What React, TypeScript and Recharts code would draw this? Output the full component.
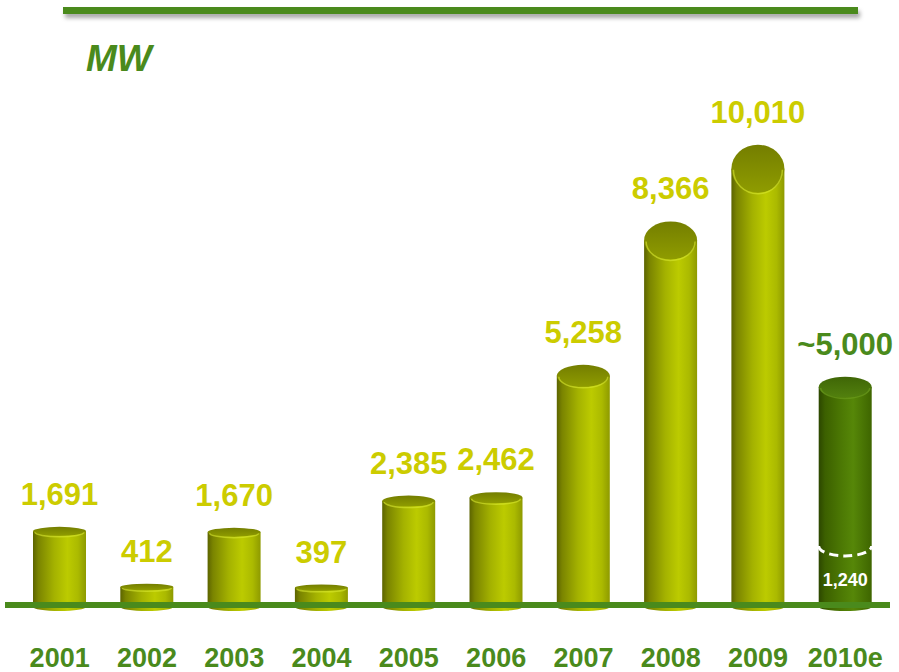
import { Bar, ComposedChart, XAxis, YAxis } from "recharts";

const years = ["2001", "2002", "2003", "2004", "2005", "2006", "2007", "2008", "2009", "2010e"];
const capacityMW = [1691, 412, 1670, 397, 2385, 2462, 5258, 8366, 10010, 5000];
const estimated = [false, false, false, false, false, false, false, false, false, true];
const installed2010 = 1240;

const data = years.map((year, i) => ({ year, mw: capacityMW[i], estimate: estimated[i] }));

const FONT = "'Liberation Sans', Arial, sans-serif";
const GREEN = "#4a8a1c";
const YELLOW = "#cccc00";

function topRy(h: number) {
  return 3 + Math.pow(Math.min(h / 437, 1), 1.5) * 21;
}

const Cylinder = (props: any) => {
  const { x, y, width, height, index, payload } = props;
  const est = payload.estimate;
  const rx = width / 2;
  const cx = x + rx;
  const ry = topRy(height);
  const bottom = y + height;
  const body = `M${x},${y} L${x},${bottom + 2} A${rx},4 0 0 0 ${x + width},${bottom + 2} L${x + width},${y} Z`;
  const gid = `body-${index}`;
  const tid = `top-${index}`;
  const label = (est ? "~" : "") + payload.mw.toLocaleString("en-US");
  const splitY = y + height * (1 - installed2010 / payload.mw);

  return (
    <g>
      <defs>
        {est ? (
          <linearGradient id={gid} x1="0" y1="0" x2="1" y2="0">
            <stop offset="0" stopColor="#2c4700" />
            <stop offset="0.12" stopColor="#3c6000" />
            <stop offset="0.45" stopColor="#4d7a04" />
            <stop offset="0.65" stopColor="#568708" />
            <stop offset="1" stopColor="#3e6500" />
          </linearGradient>
        ) : (
          <linearGradient id={gid} x1="0" y1="0" x2="1" y2="0">
            <stop offset="0" stopColor="#5c6400" />
            <stop offset="0.1" stopColor="#7a8400" />
            <stop offset="0.4" stopColor="#a4b200" />
            <stop offset="0.65" stopColor="#bccb00" />
            <stop offset="0.85" stopColor="#abba00" />
            <stop offset="1" stopColor="#8e9a00" />
          </linearGradient>
        )}
        {est ? (
          <linearGradient id={tid} x1="0" y1="0" x2="0" y2="1">
            <stop offset="0" stopColor="#3f6606" />
            <stop offset="1" stopColor="#52800e" />
          </linearGradient>
        ) : (
          <linearGradient id={tid} x1="0" y1="0" x2="0" y2="1">
            <stop offset="0" stopColor="#747e00" />
            <stop offset="1" stopColor="#8f9c00" />
          </linearGradient>
        )}
      </defs>
      <path d={body} fill={`url(#${gid})`} />
      <ellipse cx={cx} cy={y} rx={rx} ry={ry} fill={`url(#${tid})`} />
      <path
        d={`M${x + 2},${y + 1} A${rx - 2},${ry} 0 0 0 ${x + width - 2},${y + 1}`}
        fill="none"
        stroke={est ? "#6e9e20" : "#d8e830"}
        strokeOpacity={0.6}
        strokeWidth={1.5}
      />
      {est && (
        <>
          <path
            d={`M${x},${splitY - 5} A${rx},10 0 0 0 ${x + width},${splitY - 5}`}
            fill="none"
            stroke="#ffffff"
            strokeWidth={3}
            strokeDasharray="9 5"
          />
          <text
            x={cx}
            y={(splitY + bottom) / 2 + 8}
            textAnchor="middle"
            fill="#ffffff"
            fontFamily={FONT}
            fontWeight="bold"
            fontSize={18}
          >
            {installed2010.toLocaleString("en-US")}
          </text>
        </>
      )}
      <text
        x={cx}
        y={y - ry - 22}
        textAnchor="middle"
        fill={est ? GREEN : YELLOW}
        fontFamily={FONT}
        fontWeight="bold"
        fontSize={31}
      >
        {label}
      </text>
    </g>
  );
};

const YearTick = (props: any) => {
  const { x, y, payload } = props;
  return (
    <text x={x} y={y + 62} textAnchor="middle" fill={GREEN} fontFamily={FONT} fontWeight="bold" fontSize={27}>
      {payload.value}
    </text>
  );
};

export default function App() {
  return (
    <div style={{ position: "absolute", left: 0, top: 0, width: 899, height: 672, background: "#fff" }}>
      <div
        style={{
          position: "absolute",
          left: 63,
          top: 7,
          width: 795,
          height: 7,
          background: GREEN,
          boxShadow: "2px 4px 4px rgba(0,0,0,0.35)",
        }}
      />
      <div
        style={{
          position: "absolute",
          left: 86,
          top: 38,
          fontFamily: FONT,
          fontWeight: "bold",
          fontStyle: "italic",
          fontSize: 37,
          lineHeight: "42px",
          color: GREEN,
        }}
      >
        MW
      </div>
      <ComposedChart width={899} height={672} data={data} margin={{ top: 82, right: 10, left: 16, bottom: 0 }}>
        <XAxis
          dataKey="year"
          axisLine={false}
          tickLine={false}
          tickSize={0}
          tickMargin={0}
          height={67}
          interval={0}
          tick={<YearTick />}
        />
        <YAxis hide domain={[0, 12000]} />
        <Bar dataKey="mw" barSize={53} isAnimationActive={false} shape={<Cylinder />} />
      </ComposedChart>
      <div style={{ position: "absolute", left: 5, top: 602, width: 885, height: 6, background: GREEN }} />
    </div>
  );
}
